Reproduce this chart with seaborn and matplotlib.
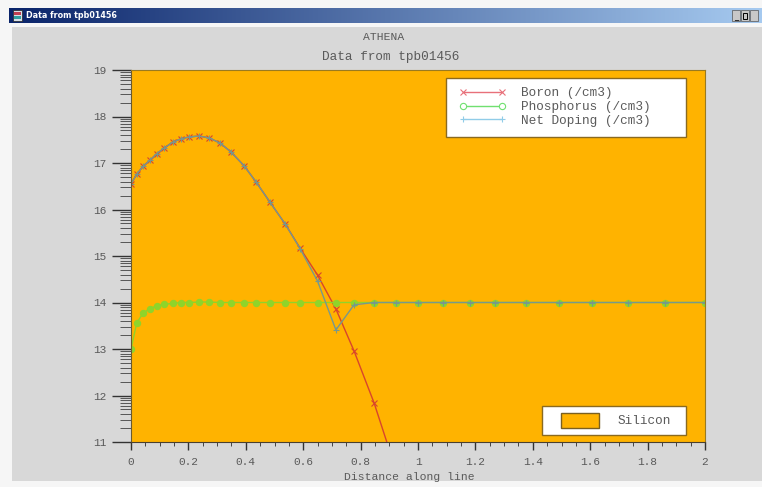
import numpy as np
import pandas as pd
import seaborn as sns
import matplotlib.pyplot as plt
from matplotlib.colors import LinearSegmentedColormap
from matplotlib.patches import Rectangle

# values (log10 of concentration)
distance = [0, 0.02, 0.042, 0.066, 0.09, 0.115, 0.146, 0.174, 0.202, 0.237, 0.272, 0.31, 0.348, 0.394,
            0.436, 0.484, 0.537, 0.589, 0.65, 0.714, 0.777, 0.847, 0.923, 1.0, 1.087, 1.18, 1.27, 1.375,
            1.49, 1.605, 1.73, 1.86, 2.0]
boron = [16.55, 16.76, 16.93, 17.06, 17.2, 17.32, 17.45, 17.52, 17.56, 17.58, 17.54, 17.43, 17.24, 16.94,
         16.59, 16.16, 15.69, 15.17, 14.59, 13.86, 12.96, 11.84, 10.4, 8.8, 7.0, 5.0, 3.0, 1.0,
         -1.0, -3.0, -5.0, -7.0, -9.0]
phosphorus = [13.0, 13.56, 13.77, 13.87, 13.93, 13.96, 13.98, 14.0, 14.0, 14.01, 14.01, 14.0, 14.0, 14.0,
              14.0, 14.0, 14.0, 14.0, 14.0, 14.0, 14.0, 14.0, 14.0, 14.0, 14.0, 14.0, 14.0, 14.0,
              14.0, 14.0, 14.0, 14.0, 14.0]
net_doping = [16.55, 16.76, 16.93, 17.06, 17.2, 17.32, 17.45, 17.52, 17.56, 17.58, 17.54, 17.43, 17.24, 16.94,
              16.59, 16.16, 15.69, 15.16, 14.46, 13.41, 13.95, 14.0, 14.0, 14.0, 14.0, 14.0, 14.0, 14.0,
              14.0, 14.0, 14.0, 14.0, 14.0]
series_names = ['Boron (/cm3)', 'Phosphorus (/cm3)', 'Net Doping (/cm3)']
x_ticks = [0, 0.2, 0.4, 0.6, 0.8, 1, 1.2, 1.4, 1.6, 1.8, 2]
x_labels = ['0', '0.2', '0.4', '0.6', '0.8', '1', '1.2', '1.4', '1.6', '1.8', '2']
y_ticks = [11, 12, 13, 14, 15, 16, 17, 18, 19]

W, H = 762, 487
ORANGE = '#FFB300'
GREY = '#D8D8D8'
TEXT = '#5a5a5a'
MONO = 'Liberation Mono'

sns.set_theme(style='ticks')
plt.rcParams['font.family'] = MONO

df = pd.DataFrame({'distance': distance, series_names[0]: boron,
                   series_names[1]: phosphorus, series_names[2]: net_doping})

fig = plt.figure(figsize=(W / 100, H / 100), dpi=100, facecolor='#f6f6f6')


def px_box(x0, y0, x1, y1):
    # pixel box (top left origin) to figure fractions
    return [x0 / W, 1 - y1 / H, (x1 - x0) / W, (y1 - y0) / H]


def fig_rect(x0, y0, x1, y1, **kw):
    l, b, w, h = px_box(x0, y0, x1, y1)
    fig.add_artist(Rectangle((l, b), w, h, transform=fig.transFigure, **kw))


# window chrome
fig_rect(12, 27, W, 481, fc=GREY, ec='none', zorder=-1)
bar = fig.add_axes(px_box(9, 8, W, 23))
bar.imshow(np.linspace(0, 1, 256).reshape(1, -1), aspect='auto',
           cmap=LinearSegmentedColormap.from_list('bar', ['#0a246a', '#a6caf0']))
bar.axis('off')
fig_rect(13, 10, 22, 21, fc='#d8e0e8', ec='#222222', lw=0.5, zorder=5)
fig_rect(14, 12, 21, 15, fc='#c04050', ec='none', zorder=6)
fig_rect(14, 16, 21, 19, fc='#30a0a0', ec='none', zorder=6)
fig.text(26 / W, 1 - 16 / H, 'Data from tpb01456', color='white', fontsize=5.8, fontweight='bold',
         family='DejaVu Sans', va='center', ha='left', zorder=6)
for x0 in [732, 741, 750]:
    fig_rect(x0, 10, x0 + 8, 21, fc='#c8c8c8', ec='#555555', lw=0.5, zorder=5)
fig.text(736 / W, 1 - 17 / H, '_', color='black', fontsize=6, ha='center', va='center',
         family='DejaVu Sans', zorder=6)
fig_rect(743, 13, 747, 19, fc='none', ec='black', lw=0.7, zorder=6)

# plot area
ax = fig.add_axes(px_box(131, 70, 705, 442), facecolor=ORANGE)
line_colors = ['#d8452c', '#8fd42a', '#78988c']
line_markers = ['x', 'o', '+']
for name, col, mk in zip(series_names, line_colors, line_markers):
    sns.lineplot(data=df, x='distance', y=name, color=col, marker=mk, sort=False, errorbar=None,
                 linewidth=1.0, markersize=4.5, markeredgewidth=0.8, markeredgecolor=col,
                 label=name, ax=ax)
ax.set_xlim(0, 2)
ax.set_ylim(11, 19)

ax.set_xticks(x_ticks)
ax.set_xticklabels(x_labels)
ax.set_xticks(np.arange(0, 2.01, 0.05), minor=True)
ax.set_yticks(y_ticks)
ax.set_yticks([d + np.log10(k) for d in y_ticks[:-1] for k in range(2, 10)], minor=True)
ax.tick_params(axis='x', which='major', length=6, width=1.0, color='#333333', labelsize=8,
               labelcolor=TEXT, pad=5)
ax.tick_params(axis='x', which='minor', length=3, width=0.7, color='#444444')
ax.tick_params(axis='y', which='major', length=14, width=1.0, color='#333333', labelsize=8,
               labelcolor=TEXT, pad=4)
ax.tick_params(axis='y', which='minor', length=8, width=0.7, color='#555555')
for side in ax.spines:
    ax.spines[side].set_visible(True)
    ax.spines[side].set_linewidth(0.8)
    ax.spines[side].set_color('#9a7a20')
ax.spines['left'].set_color('#6a5a30')
ax.spines['bottom'].set_color('#4a4030')
ax.set_xlabel('Distance along line', fontsize=8.2, color=TEXT, va='center')
ax.xaxis.set_label_coords(409 / W, 1 - 477 / H, transform=fig.transFigure)
ax.set_ylabel('')

fig.text(384 / W, 1 - 37 / H, 'ATHENA', fontsize=8.2, color=TEXT, ha='center', va='center')
fig.text(391 / W, 1 - 57 / H, 'Data from tpb01456', fontsize=9.2, color=TEXT, ha='center', va='center')


def ax_rect(x0, y0, x1, y1, **kw):
    l, b, w, h = px_box(x0, y0, x1, y1)
    r = Rectangle((l, b), w, h, transform=fig.transFigure, **kw)
    ax.add_artist(r)
    r.set_clip_on(False)


# legend boxes
ax_rect(446, 78, 686, 137, fc='white', ec='#8a6a20', lw=1.0, zorder=4)
handles, labels = ax.get_legend_handles_labels()
leg = ax.legend(handles, labels, loc='center left', frameon=False, fontsize=9.2, labelcolor=TEXT,
                bbox_to_anchor=(448 / W, 1 - 107 / H), bbox_transform=fig.transFigure, numpoints=2,
                handlelength=3.6, handletextpad=1.25, labelspacing=0.12, borderpad=0.4)
leg.set_zorder(5)
# the key is paler than the curves
key_colors = ['#e8707a', '#70e070', '#90cce8']
for h, col in zip(leg.get_lines(), key_colors):
    h.set_color(col)
    h.set_markeredgecolor(col)
    h.set_markerfacecolor('white')

ax_rect(542, 406, 686, 435, fc='white', ec='#8a6a20', lw=1.0, zorder=4)
ax_rect(561, 413, 599, 428, fc=ORANGE, ec='#7a6020', lw=1.0, zorder=5)
ax.text(618 / W, 1 - 421 / H, 'Silicon', transform=fig.transFigure, fontsize=9.2, color=TEXT,
        ha='left', va='center', zorder=5)

fig.savefig('out.png', dpi=100, facecolor=fig.get_facecolor())
